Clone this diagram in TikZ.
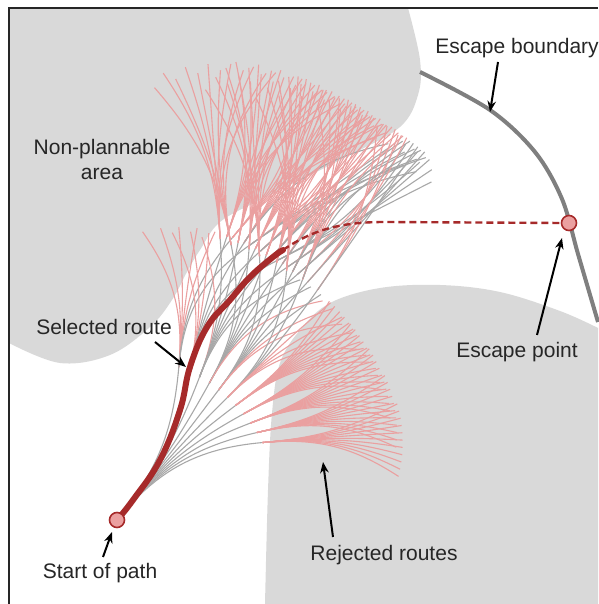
\documentclass[tikz,border=0pt]{standalone}
\usepackage{fontspec}
\setmainfont{Liberation Sans}
\usetikzlibrary{arrows.meta}

\definecolor{obst}{HTML}{D9D9D9}
\definecolor{raygray}{HTML}{A8A8A8}
\definecolor{raypink}{HTML}{EAA0A0}
\definecolor{routered}{HTML}{A62A2A}
\definecolor{ptfill}{HTML}{EBA0A0}
\definecolor{boundgray}{HTML}{7F7F7F}
\definecolor{ink}{HTML}{262626}

\begin{document}
\begin{tikzpicture}[x=1pt,y=1pt,
  lbl/.style={font=\fontsize{21}{25}\selectfont, text=ink, inner sep=0pt, align=center},
  pointer/.style={draw=black, line width=2pt, -{Stealth[length=11pt,width=8.5pt]}},
  ray/.style={draw=raygray, line width=1.1pt},
  rejected/.style={draw=raypink, line width=1.1pt},
  waypoint/.style={circle, minimum size=15pt, inner sep=0pt, fill=ptfill, draw=routered, line width=1.6pt},
]
\useasboundingbox (0,0) rectangle (598,604);

% obstacles
\fill[obst] (9,596) -- plot[smooth, tension=0.6] coordinates {(9,261) (60,241) (110,249) (150,277) (172,304) (188,334) (200,354) (220,382) (260,404) (300,424) (350,449) (400,477) (418,509) (420,544) (408,596)} -- cycle;
\fill[obst] (598,0) -- plot[smooth, tension=0.6] coordinates {(265,0) (268,114) (272,191) (280,241) (300,274) (330,301) (380,316) (440,319) (500,312) (560,293) (598,276)} -- cycle;

% frame
\draw[draw=ink, line width=1.5pt] (9,0) -- (9,596) -- (598,596);

% escape boundary
\draw[draw=boundgray, line width=4pt] plot[smooth, tension=0.55] coordinates {(420,532) (490,494) (535,452) (562,405) (578,350) (598,282)};

% search tree of motion primitives
\coordinate (S) at (117,84);
\foreach \da in {34,26,18,10,2,-6,-14,-22,-30,-38,-46} {
  \pgfmathsetmacro\ah{51+\da}
  \pgfmathsetmacro\ax{117+165*cos(51+\da/2)}
  \pgfmathsetmacro\ay{84+165*sin(51+\da/2)}
  \pgfmathsetmacro\ain{\ah+180}
  \draw[ray] (S) to[out=51,in=\ain] (\ax,\ay);
  \ifnum\da<-10\relax
    \foreach \db in {22,16,10,4,-2,-8,-14,-20,-26,-32,-38} {
      \pgfmathsetmacro\bh{\ah+\db}
      \pgfmathsetmacro\bx{\ax+140*cos(\ah+\db/2)}
      \pgfmathsetmacro\by{\ay+140*sin(\ah+\db/2)}
      \pgfmathsetmacro\bin{\bh+180}
      \draw[rejected] (\ax,\ay) to[out=\ah,in=\bin] (\bx,\by);
    }
  \else
    \foreach \db in {40,25,10,-5,-20,-35,-50} {
      \pgfmathsetmacro\bh{\ah+\db}
      \pgfmathsetmacro\bx{\ax+140*cos(\ah+\db/2)}
      \pgfmathsetmacro\by{\ay+140*sin(\ah+\db/2)}
      \pgfmathsetmacro\bin{\bh+180}
      \pgfmathtruncatemacro\bbad{or((((\bx-430)/100)^2+((\by-184)/100)^2>7.9), and(\by<305,\bx>280))}
      \ifnum\bbad=1\relax
        \draw[rejected] (\ax,\ay) to[out=\ah,in=\bin] (\bx,\by);
      \else
        \draw[ray] (\ax,\ay) to[out=\ah,in=\bin] (\bx,\by);
        \pgfmathtruncatemacro\bok{and(\bh<=115,\bh>=25)}
        \ifnum\bok=1\relax
          \foreach \dc in {30,15,0,-15,-30,-45} {
            \pgfmathsetmacro\ch{\bh+\dc}
            \pgfmathsetmacro\cx{\bx+175*cos(\bh+\dc/2)}
            \pgfmathsetmacro\cy{\by+175*sin(\bh+\dc/2)}
            \pgfmathtruncatemacro\cok{and(and(\ch<=135,\ch>=12),\cx<=432)}
            \ifnum\cok=1\relax
              \pgfmathsetmacro\cin{\ch+180}
              \pgfmathtruncatemacro\cbad{or((((\cx-430)/100)^2+((\cy-184)/100)^2>7.9), and(\cy<305,\cx>280))}
              \ifnum\cbad=1\relax
                \draw[rejected] (\bx,\by) to[out=\bh,in=\cin] (\cx,\cy);
              \else
                \draw[ray] (\bx,\by) to[out=\bh,in=\cin] (\cx,\cy);
              \fi
            \fi
          }
        \fi
      \fi
    }
  \fi
}

% selected route and its continuation to the escape point
\coordinate (C) at (283,354);
\draw[draw=routered, line width=6pt, line cap=round] plot[smooth, tension=0.7] coordinates {(117,84) (133,104) (160,144) (180,194) (190,237) (207,277) (230,304) (250,327) (273,347) (283,354)};
\node[waypoint] (escape) at (569,381) {};
\draw[draw=routered, line width=2.4pt, dash pattern=on 7pt off 4pt] (C) .. controls (315,376) and (345,382) .. (385,382) -- (escape.west);
\node[waypoint] (start) at (S) {};

% labels
\node[lbl] (area) at (102,444) {Non-plannable\\area};
\node[lbl] (sel) at (104,277) {Selected route};
\node[lbl] (startlbl) at (100,31) {Start of path};
\node[lbl] (bnd) at (517,556) {Escape boundary};
\node[lbl] (esc) at (517,252) {Escape point};
\node[lbl] (rej) at (384,49) {Rejected routes};

% pointers
\coordinate (selA) at (155,262);  \coordinate (selB) at (186,237);
\coordinate (stA) at (103,47);    \coordinate (stB) at (112,72);
\coordinate (bnA) at (498,542);   \coordinate (bnB) at (490,492);
\coordinate (epA) at (537,269);   \coordinate (epB) at (562,366);
\coordinate (rjA) at (333,67);    \coordinate (rjB) at (323,142);
\draw[pointer] (selA) -- (selB);
\draw[pointer] (stA) -- (stB);
\draw[pointer] (bnA) -- (bnB);
\draw[pointer] (epA) -- (epB);
\draw[pointer] (rjA) -- (rjB);
\end{tikzpicture}
\end{document}
